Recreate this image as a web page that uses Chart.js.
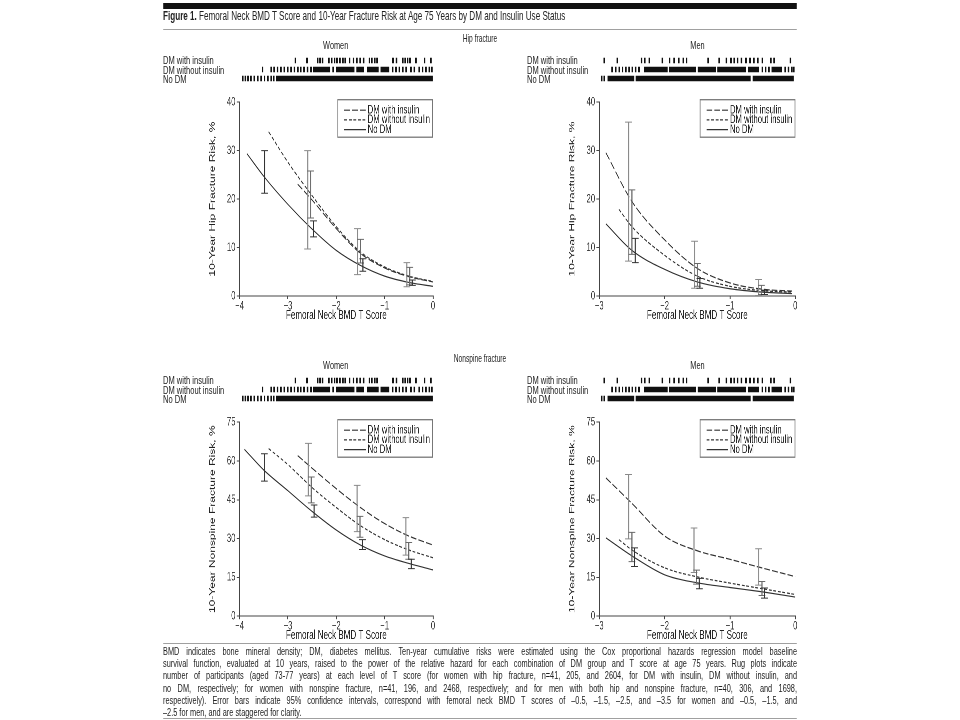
<!DOCTYPE html>
<html><head><meta charset="utf-8">
<script src="https://cdn.jsdelivr.net/npm/chart.js@4"></script>
<style>
html,body{margin:0;padding:0;background:#fff;width:960px;height:720px;overflow:hidden;}
#fig{position:absolute;left:0;top:0;height:720px;transform-origin:0 0;font-family:"Liberation Sans",Arial,sans-serif;color:#222;}
#fig div,#fig canvas{position:absolute;}
.t{white-space:nowrap;}
</style></head><body><div id="fig"></div>
<script>
// ---------- DATA ----------
const xTicksWomen = [-4, -3, -2, -1, 0];
const xTicksMen = [-3, -2, -1, 0];
const hipYTicks = [0, 10, 20, 30, 40];
const nonspineYTicks = [0, 15, 30, 45, 60, 75];
const seriesNames = ['DM with insulin', 'DM without insulin', 'No DM'];

// Women, hip fracture: curves (T score, risk %)
const WH_ins_T = [-2.8, -2.5, -2, -1.5, -1, -0.5, 0];
const WH_ins   = [23.1, 19.8, 13.9, 8.8, 5.8, 4.0, 2.9];
const WH_non_T = [-3.4, -3, -2.5, -2, -1.5, -1, -0.5, 0];
const WH_non   = [33.9, 27.6, 20.7, 14.3, 9.1, 6.0, 4.1, 3.0];
const WH_dm_T  = [-3.85, -3.5, -3, -2.5, -2, -1.5, -1, -0.5, 0];
const WH_dm    = [29.4, 24.7, 18.9, 13.8, 9.4, 6.3, 4.1, 2.8, 2.0];
// error bars [T (staggered), low, high]
const WH_ins_eb = [[-2.59, 9.7, 30.0], [-1.56, 4.4, 13.9], [-0.54, 1.9, 6.9]];
const WH_non_eb = [[-2.53, 16.1, 25.8], [-1.50, 6.8, 11.7], [-0.48, 2.3, 5.9]];
const WH_dm_eb  = [[-3.48, 21.2, 30.0], [-2.47, 12.2, 15.5], [-1.45, 5.1, 7.7], [-0.43, 2.2, 3.3]];

// Men, hip fracture
const MH_ins_T = [-2.9, -2.5, -2, -1.5, -1, -0.5, -0.05];
const MH_ins   = [29.6, 19.5, 11.6, 5.7, 2.7, 1.4, 1.0];
const MH_non_T = [-2.7, -2.5, -2, -1.5, -1, -0.5, -0.05];
const MH_non   = [17.9, 14.3, 8.4, 4.1, 2.0, 1.1, 0.8];
const MH_dm_T  = [-2.9, -2.5, -2, -1.5, -1, -0.5, -0.05];
const MH_dm    = [14.9, 9.4, 5.5, 2.9, 1.5, 0.8, 0.5];
const MH_ins_eb = [[-2.55, 7.2, 35.9], [-1.54, 1.6, 11.3], [-0.56, 0.1, 3.4]];
const MH_non_eb = [[-2.50, 8.6, 21.9], [-1.50, 2.0, 6.7], [-0.52, 0.3, 2.2]];
const MH_dm_eb  = [[-2.45, 6.9, 11.9], [-1.46, 1.6, 3.6], [-0.47, 0.3, 1.2]];

// Women, nonspine fracture
const WN_ins_T = [-2.8, -2.5, -2, -1.5, -1, -0.5, 0];
const WN_ins   = [62.1, 57.2, 49.3, 42.0, 35.8, 31.0, 27.5];
const WN_non_T = [-3.4, -3, -2.5, -2, -1.5, -1, -0.5, 0];
const WN_non   = [64.8, 58.6, 49.7, 42.0, 35.0, 29.6, 25.6, 22.6];
const WN_dm_T  = [-3.9, -3.5, -3, -2.5, -2, -1.5, -1, -0.5, 0];
const WN_dm    = [64.5, 56.5, 48.5, 40.5, 33.3, 27.5, 23.3, 20.4, 17.9];
const WN_ins_eb = [[-2.58, 46.5, 66.8], [-1.57, 32.7, 50.6], [-0.56, 23.6, 38.1]];
const WN_non_eb = [[-2.52, 43.8, 53.8], [-1.51, 30.5, 38.6], [-0.50, 22.0, 28.5]];
const WN_dm_eb  = [[-3.49, 52.2, 62.8], [-2.46, 38.3, 43.0], [-1.46, 25.8, 29.6], [-0.45, 18.4, 22.0]];

// Men, nonspine fracture
const MN_ins_T = [-2.9, -2.5, -2, -1.5, -1, -0.5, 0];
const MN_ins   = [53.5, 43.6, 31.0, 25.3, 22.0, 18.6, 15.3];
const MN_non_T = [-2.7, -2.5, -2, -1.5, -1, -0.5, 0];
const MN_non   = [29.6, 25.6, 18.7, 15.2, 12.8, 10.6, 8.4];
const MN_dm_T  = [-2.9, -2.5, -2, -1.5, -1, -0.5, 0];
const MN_dm    = [30.3, 23.3, 16.0, 12.9, 11.1, 9.4, 7.4];
const MN_ins_eb = [[-2.55, 29.9, 54.8], [-1.55, 16.9, 34.1], [-0.56, 12.0, 26.1]];
const MN_non_eb = [[-2.50, 21.1, 32.4], [-1.51, 12.4, 17.8], [-0.51, 8.0, 13.4]];
const MN_dm_eb  = [[-2.46, 19.2, 26.4], [-1.47, 10.6, 14.6], [-0.47, 7.0, 10.9]];

// Rug plots: single ticks (T scores) and dense runs [from, to]
const womenRugIns = [-2.84, -2.60, -2.38, -2.33, -2.28, -2.15, -2.09, -2.03, -1.98, -1.92, -1.86, -1.81,
  -1.72, -1.64, -1.57, -1.50, -1.43, -1.31, -1.26, -1.20, -1.15, -0.82, -0.75, -0.62, -0.57, -0.52, -0.47,
  -0.35, -0.17, -0.04];
const womenRugNonTicks = [-3.52, -3.34, -3.28, -3.21, -3.14, -3.07, -3.00, -2.93, -2.86, -2.79, -2.73, -2.66,
  -2.59, -2.52, -2.06, -0.83, -0.76, -0.69, -0.62, -0.55, -0.45, -0.38, -0.28, -0.21, -0.14, -0.07, -0.02];
const womenRugNonRuns = [[-2.48, -2.12], [-2.00, -1.62], [-1.58, -1.42], [-1.36, -1.12], [-1.08, -0.90]];
const womenRugDmTicks = [-3.93, -3.875, -3.82, -3.76, -3.69, -3.62, -3.55, -3.48, -3.41, -3.34, -3.29];
const womenRugDmRuns = [[-3.24, 0]];

const menRugIns = [-2.92, -2.72, -2.35, -2.30, -2.23, -2.03, -1.92, -1.85, -1.78, -1.71, -1.66, -1.33, -1.16,
  -1.05, -0.98, -0.93, -0.88, -0.82, -0.75, -0.69, -0.63, -0.57, -0.50, -0.37, -0.32, -0.07];
const menRugNonTicks = [-2.80, -2.745, -2.69, -2.64, -2.59, -2.54, -2.49, -2.44, -2.39, -0.50, -0.45, -0.40,
  -0.15, -0.10, -0.05, -0.02];
const menRugNonRuns = [[-2.31, -1.95], [-1.93, -1.52], [-1.49, -1.21], [-1.19, -0.75], [-0.72, -0.55], [-0.36, -0.20]];
const menRugDmTicks = [-2.96, -2.92];
const menRugDmRuns = [[-2.87, -2.46], [-2.44, -0.68], [-0.65, -0.02]];

const captionLines = [
  'BMD indicates bone mineral density; DM, diabetes mellitus. Ten-year cumulative risks were estimated using the Cox proportional hazards regression model baseline',
  'survival function, evaluated at 10 years, raised to the power of the relative hazard for each combination of DM group and T score at age 75 years. Rug plots indicate',
  'number of participants (aged 73-77 years) at each level of T score (for women with hip fracture, n=41, 205, and 2604, for DM with insulin, DM without insulin, and',
  'no DM, respectively; for women with nonspine fracture, n=41, 196, and 2468, respectively; and for men with both hip and nonspine fracture, n=40, 306, and 1698,',
  'respectively). Error bars indicate 95% confidence intervals, correspond with femoral neck BMD T scores of \u20130.5, \u20131.5, \u20132.5, and \u20133.5 for women and \u20130.5, \u20131.5, and',
  '\u20132.5 for men, and are staggered for clarity.'
];

// ---------- LAYOUT ----------
const K = 0.64; // horizontal condensation of the figure
const FONT = "'Liberation Sans', Arial, sans-serif";
const fig = document.getElementById('fig');
fig.style.width = (960 / K) + 'px';
fig.style.transform = 'scaleX(' + K + ')';
const U = x => x / K;

function rect(x1, y1, x2, y2, color) {
  const d = document.createElement('div');
  d.style.left = U(x1) + 'px'; d.style.top = y1 + 'px';
  d.style.width = U(x2 - x1) + 'px'; d.style.height = (y2 - y1) + 'px';
  d.style.background = color; fig.appendChild(d); return d;
}
function text(html, x, cy, size, align) {
  const d = document.createElement('div');
  d.className = 't';
  d.style.fontSize = size + 'px';
  d.style.lineHeight = (size * 1.2) + 'px';
  d.style.top = (cy - size * 0.6) + 'px';
  if (align === 'center') { d.style.left = (U(x) - 300) + 'px'; d.style.width = '600px'; d.style.textAlign = 'center'; }
  else { d.style.left = U(x) + 'px'; }
  d.innerHTML = html; fig.appendChild(d); return d;
}

// header
rect(163, 3, 797, 9.3, '#111');
text('<b>Figure 1.</b> Femoral Neck BMD T Score and 10-Year Fracture Risk at Age 75 Years by DM and Insulin Use Status', 163, 16.5, 12.7, 'left');
rect(163, 29, 797, 30, '#a0a0a0');
text('Hip fracture', 480, 39, 10.4, 'center');
text('Nonspine fracture', 480, 359, 10.4, 'center');

// caption
rect(163, 643, 797, 644, '#a0a0a0');
captionLines.forEach((ln, i) => {
  const d = document.createElement('div');
  d.className = 't';
  d.style.fontSize = '11.5px'; d.style.lineHeight = '12px';
  d.style.left = U(163) + 'px'; d.style.width = U(634) + 'px';
  d.style.top = (651 + i * 12.2 - 6) + 'px';
  d.style.whiteSpace = 'normal';
  d.style.textAlign = 'justify';
  d.style.textAlignLast = (i < captionLines.length - 1) ? 'justify' : 'left';
  d.textContent = ln; fig.appendChild(d);
});
rect(163, 718, 797, 719, '#a0a0a0');

// ---------- plugins ----------
function errPlugin(groups) {
  return {
    id: 'errbars',
    afterDatasetsDraw(chart) {
      const { ctx, scales: { x, y } } = chart;
      ctx.save();
      groups.forEach(g => {
        ctx.strokeStyle = g.color;
        g.data.forEach(([t, lo, hi]) => {
          const px = x.getPixelForValue(t), pl = y.getPixelForValue(lo), ph = y.getPixelForValue(hi);
          const cw = U(3.4);
          ctx.lineWidth = 1.7;
          ctx.beginPath(); ctx.moveTo(px, pl); ctx.lineTo(px, ph); ctx.stroke();
          ctx.lineWidth = 1;
          ctx.beginPath();
          ctx.moveTo(px - cw, pl); ctx.lineTo(px + cw, pl);
          ctx.moveTo(px - cw, ph); ctx.lineTo(px + cw, ph);
          ctx.stroke();
        });
      });
      ctx.restore();
    }
  };
}
const legendPlugin = {
  id: 'legendBox',
  afterDraw(chart) {
    const { ctx, chartArea: a } = chart;
    const w = U(95.5), h = 37.5, x0 = a.right - w, y0 = a.top - 3;
    ctx.save();
    ctx.fillStyle = '#fff'; ctx.fillRect(x0, y0, w, h);
    ctx.strokeStyle = '#777'; ctx.lineWidth = 1.3; ctx.strokeRect(x0 + 0.5, y0 + 0.5, w - 1, h);
    ctx.font = '12px ' + FONT; ctx.textBaseline = 'middle'; ctx.fillStyle = '#222';
    chart.data.datasets.forEach((ds, i) => {
      const yy = y0 + 11 + i * 9.7;
      ctx.setLineDash(ds.borderDash || []);
      ctx.strokeStyle = ds.borderColor; ctx.lineWidth = ds.borderWidth;
      ctx.beginPath(); ctx.moveTo(x0 + U(6.8), yy); ctx.lineTo(x0 + U(28.5), yy); ctx.stroke();
      ctx.setLineDash([]);
      ctx.fillText(ds.label, x0 + U(30.2), yy);
    });
    ctx.restore();
  }
};

const styles = [
  { dash: [9, 3.2] },
  { dash: [4.5, 2.6] },
  { dash: [] }
];
const fmtT = v => (v < 0 ? '\u2212' + Math.abs(v) : String(v));

function makePanel(cfg) {
  const { plotL, plotR, plotT, plotB, xTicks, yTicks, ytitle, curves, bars } = cfg;
  const yFont = 12, ylh = yFont * 1.2;
  const xFont = 12.6, xlh = xFont * 1.2;
  const padTop = 8;
  const leftU = U(plotL - 27) - (ylh / 2 + 2);
  const yW = U(plotL) - leftU;
  const xH = 19.5 + xlh / 2;
  const cw = Math.ceil(U(plotR) - leftU + 8);
  const padRight = cw - (U(plotR) - leftU);
  const ch = Math.ceil(padTop + (plotB - plotT) + xH);
  const padBottom = ch - (padTop + (plotB - plotT) + xH);
  const cv = document.createElement('canvas');
  cv.width = cw; cv.height = ch;
  cv.style.left = leftU + 'px'; cv.style.top = (plotT - padTop) + 'px';
  fig.appendChild(cv);
  const datasets = curves.map((c, i) => ({
    label: seriesNames[i],
    data: c.T.map((t, j) => ({ x: t, y: c.V[j] })),
    showLine: true, pointRadius: 0, borderColor: '#333', borderWidth: 1.2,
    borderDash: styles[i].dash, cubicInterpolationMode: 'monotone', fill: false
  }));
  new Chart(cv, {
    type: 'scatter',
    data: { datasets },
    options: {
      responsive: false, animation: false, devicePixelRatio: 2, events: [],
      layout: { autoPadding: false, padding: { top: padTop, right: padRight, bottom: padBottom, left: 0 } },
      plugins: { legend: { display: false }, tooltip: { enabled: false } },
      scales: {
        x: {
          type: 'linear', min: xTicks[0], max: xTicks[xTicks.length - 1],
          afterBuildTicks: s => { s.ticks = xTicks.map(v => ({ value: v })); },
          afterFit: s => { s.height = xH; },
          grid: { display: true, drawOnChartArea: false, drawTicks: true, tickLength: 3, color: '#444', lineWidth: 1.5 },
          border: { display: true, color: '#444', width: 1 },
          ticks: { callback: fmtT, font: { size: 12, family: FONT }, color: '#333', padding: 0, maxRotation: 0 },
          title: { display: true, text: 'Femoral Neck BMD T Score', font: { size: xFont, family: FONT }, color: '#222', padding: { top: 0, bottom: 0 } }
        },
        y: {
          type: 'linear', min: yTicks[0], max: yTicks[yTicks.length - 1],
          afterBuildTicks: s => { s.ticks = yTicks.map(v => ({ value: v })); },
          afterFit: s => { s.width = yW; },
          grid: { display: true, drawOnChartArea: false, drawTicks: true, tickLength: 4.5, color: '#444', lineWidth: 1 },
          border: { display: true, color: '#444', width: 1.5 },
          ticks: { callback: v => String(v), font: { size: 12, family: FONT }, color: '#333', padding: 2 },
          title: { display: true, text: ytitle, font: { size: yFont, family: FONT }, color: '#222', padding: { top: 2, bottom: 0 } }
        }
      }
    },
    plugins: [errPlugin(bars), legendPlugin]
  });
}

function makeRug(cfg) {
  const { plotL, plotR, xmin, cy0, rows } = cfg;
  const leftU = U(plotL) - 4;
  const plotWU = U(plotR) - U(plotL);
  const w = Math.ceil(plotWU + 8);
  const cv = document.createElement('canvas');
  cv.width = w; cv.height = 27;
  cv.style.left = leftU + 'px'; cv.style.top = (cy0 - 4.5) + 'px';
  fig.appendChild(cv);
  const datasets = [];
  rows.forEach((r, ri) => {
    datasets.push({
      data: r.ticks.map(t => ({ x: t, y: ri })), showLine: false,
      pointStyle: 'line', pointRotation: 90, pointRadius: 2.7, pointBorderWidth: 2.5,
      pointBorderColor: '#111', pointBackgroundColor: '#111'
    });
    r.runs.forEach(([a, b]) => datasets.push({
      data: [{ x: a, y: ri }, { x: b, y: ri }], showLine: true, pointRadius: 0,
      borderWidth: 5.4, borderColor: '#111', borderCapStyle: 'butt'
    }));
  });
  new Chart(cv, {
    type: 'scatter',
    data: { datasets },
    options: {
      responsive: false, animation: false, devicePixelRatio: 2, events: [],
      layout: { autoPadding: false, padding: { left: 4, right: w - 4 - plotWU, top: 0, bottom: 0 } },
      plugins: { legend: { display: false }, tooltip: { enabled: false } },
      scales: {
        x: { type: 'linear', min: xmin, max: 0, display: false },
        y: { type: 'linear', min: -0.5, max: 2.5, reverse: true, display: false }
      }
    }
  });
}

function rugLabels(x, cy0, title, titleX, titleY) {
  text(title, titleX, titleY, 11.5, 'center');
  seriesNames.forEach((n, i) => text(n, x, cy0 + i * 9.1, 11.8, 'left'));
}

const womenRows = [
  { ticks: womenRugIns, runs: [] },
  { ticks: womenRugNonTicks, runs: womenRugNonRuns },
  { ticks: womenRugDmTicks, runs: womenRugDmRuns }
];
const menRows = [
  { ticks: menRugIns, runs: [] },
  { ticks: menRugNonTicks, runs: menRugNonRuns },
  { ticks: menRugDmTicks, runs: menRugDmRuns }
];

const L1 = 239.3, R1 = 432.7, L2 = 599.3, R2 = 795.3;
const top1 = 101, bot1 = 296, top2 = 420.5, bot2 = 615.7;

// Hip fracture
rugLabels(163, 60.5, 'Women', 335.7, 45.5);
rugLabels(527, 60.5, 'Men', 697.5, 45.5);
makeRug({ plotL: L1, plotR: R1, xmin: -4, cy0: 60.5, rows: womenRows });
makeRug({ plotL: L2, plotR: R2, xmin: -3, cy0: 60.5, rows: menRows });
makePanel({ plotL: L1, plotR: R1, plotT: top1, plotB: bot1, xTicks: xTicksWomen, yTicks: hipYTicks,
  ytitle: '10-Year Hip Fracture Risk, %',
  curves: [{ T: WH_ins_T, V: WH_ins }, { T: WH_non_T, V: WH_non }, { T: WH_dm_T, V: WH_dm }],
  bars: [{ data: WH_ins_eb, color: '#8a8a8a' }, { data: WH_non_eb, color: '#6a6a6a' }, { data: WH_dm_eb, color: '#333' }] });
makePanel({ plotL: L2, plotR: R2, plotT: top1, plotB: bot1, xTicks: xTicksMen, yTicks: hipYTicks,
  ytitle: '10-Year Hip Fracture Risk, %',
  curves: [{ T: MH_ins_T, V: MH_ins }, { T: MH_non_T, V: MH_non }, { T: MH_dm_T, V: MH_dm }],
  bars: [{ data: MH_ins_eb, color: '#8a8a8a' }, { data: MH_non_eb, color: '#6a6a6a' }, { data: MH_dm_eb, color: '#333' }] });

// Nonspine fracture
rugLabels(163, 380.5, 'Women', 335.7, 365.5);
rugLabels(527, 380.5, 'Men', 697.5, 365.5);
makeRug({ plotL: L1, plotR: R1, xmin: -4, cy0: 380.5, rows: womenRows });
makeRug({ plotL: L2, plotR: R2, xmin: -3, cy0: 380.5, rows: menRows });
makePanel({ plotL: L1, plotR: R1, plotT: top2, plotB: bot2, xTicks: xTicksWomen, yTicks: nonspineYTicks,
  ytitle: '10-Year Nonspine Fracture Risk, %',
  curves: [{ T: WN_ins_T, V: WN_ins }, { T: WN_non_T, V: WN_non }, { T: WN_dm_T, V: WN_dm }],
  bars: [{ data: WN_ins_eb, color: '#8a8a8a' }, { data: WN_non_eb, color: '#6a6a6a' }, { data: WN_dm_eb, color: '#333' }] });
makePanel({ plotL: L2, plotR: R2, plotT: top2, plotB: bot2, xTicks: xTicksMen, yTicks: nonspineYTicks,
  ytitle: '10-Year Nonspine Fracture Risk, %',
  curves: [{ T: MN_ins_T, V: MN_ins }, { T: MN_non_T, V: MN_non }, { T: MN_dm_T, V: MN_dm }],
  bars: [{ data: MN_ins_eb, color: '#8a8a8a' }, { data: MN_non_eb, color: '#6a6a6a' }, { data: MN_dm_eb, color: '#333' }] });
</script>
</body></html>
